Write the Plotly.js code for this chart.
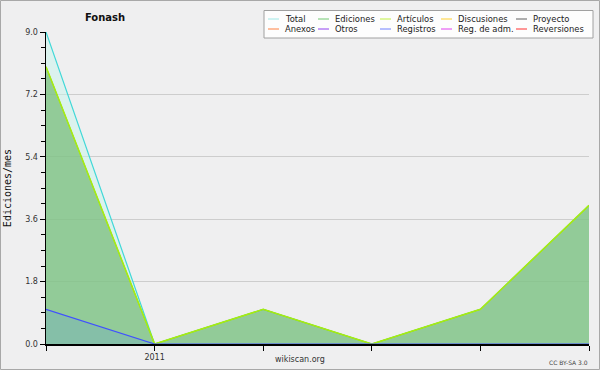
<!DOCTYPE html>
<html><head><meta charset="utf-8">
<script src="https://cdn.plot.ly/plotly-3.0.1.min.js"></script>
<style>html,body{margin:0;padding:0;background:#efeff0;}#c{width:600px;height:370px;}</style>
</head><body><div id="c"></div>
<script>
// ---- data ----
var months = ['2010-12','2011-01','2011-02','2011-03','2011-04','2011-05'];
var xTickLabels = ['', '2011', '', '', '', ''];
var total = [9, 0, 1, 0, 1, 4];
var ediciones = [8, 0, 1, 0, 1, 4];
var articulos = [8, 0, 1, 0, 1, 4];
var registros = [1, 0, 0, 0, 0, 0];
var legendNames = ['Total','Ediciones','Artículos','Discusiones','Proyecto','Anexos','Otros','Registros','Reg. de adm.','Reversiones'];
var legendColors = ['#9ee8e6','#70c870','#c0f040','#ffd030','#606060','#ff8040','#9040f0','#7080ff','#e040f0','#ff3030'];
var yTicks = [0, 1.8, 3.6, 5.4, 7.2, 9.0];

// ---- geometry helpers ----
var L = 46, R = 589, T = 32, B = 344;
function px(x){ return (x - L) / (R - L); }
function py(y){ return (B - y) / (B - T); }

var traces = [
  {x: months, y: total, type: 'scatter', mode: 'lines', name: 'Total', fill: 'tozeroy',
   fillcolor: 'rgba(200,245,235,0.5)', line: {color: '#40d8d8', width: 1.2}},
  {x: months, y: ediciones, type: 'scatter', mode: 'lines', name: 'Ediciones', fill: 'tozeroy',
   fillcolor: 'rgba(108,182,106,0.65)', line: {color: '#60c060', width: 1}},
  {x: months, y: articulos, type: 'scatter', mode: 'lines', name: 'Artículos',
   line: {color: '#a8ec10', width: 1.6}},
  {x: months, y: registros, type: 'scatter', mode: 'lines', name: 'Registros', fill: 'tozeroy',
   fillcolor: 'rgba(104,166,205,0.3)', line: {color: '#4050ff', width: 1.2}}
];

var shapes = [
  {type: 'rect', xref: 'paper', yref: 'paper', x0: px(0.5), x1: px(599.5), y0: py(369.5), y1: py(0.5),
   line: {color: '#a8a8a8', width: 1}, fillcolor: 'rgba(0,0,0,0)', layer: 'below'},
  {type: 'rect', xref: 'paper', yref: 'paper', x0: px(264), x1: px(593), y0: py(38), y1: py(10.5),
   line: {color: '#a0a0a0', width: 1}, fillcolor: '#fdfdfd'}
];
var annotations = [
  {text: 'wikiscan.org', xref: 'paper', yref: 'paper', x: px(300), y: py(359), showarrow: false,
   font: {family: 'DejaVu Sans', size: 8, color: '#333'}, xanchor: 'center', yanchor: 'middle'},
  {text: 'CC BY-SA 3.0', xref: 'paper', yref: 'paper', x: px(590), y: py(362), showarrow: false,
   font: {family: 'DejaVu Sans', size: 6, color: '#444'}, xanchor: 'right', yanchor: 'middle'}
];
var colX = [268, 318, 380, 441, 516];
var rowY = [19, 29];
for (var i = 0; i < legendNames.length; i++) {
  var c = i % 5, r = Math.floor(i / 5);
  shapes.push({type: 'line', xref: 'paper', yref: 'paper', x0: px(colX[c]), x1: px(colX[c] + 11),
    y0: py(rowY[r]), y1: py(rowY[r]), line: {color: legendColors[i], width: 1}});
  annotations.push({text: legendNames[i], xref: 'paper', yref: 'paper', x: px(colX[c] + 15), y: py(rowY[r]),
    showarrow: false, xanchor: 'left', yanchor: 'middle',
    font: {family: 'DejaVu Sans', size: 8.4, color: '#222'}});
}

var layout = {
  width: 600, height: 370,
  margin: {l: L, r: 600 - R, t: T, b: 370 - B, pad: 0},
  paper_bgcolor: '#efeff0', plot_bgcolor: '#efeff0',
  showlegend: false,
  title: {text: '<b>Fonash</b>', x: 105/600, xref: 'container', xanchor: 'center',
          y: 1 - 17/370, yref: 'container', yanchor: 'middle',
          font: {family: 'DejaVu Sans', size: 10, color: '#111'}},
  xaxis: {type: 'category', range: [0, months.length - 1],
          tickmode: 'array', tickvals: months, ticktext: xTickLabels,
          ticks: 'outside', ticklen: 5, tickcolor: '#000', tickwidth: 1,
          showgrid: false, zeroline: false, showline: true, linecolor: '#000', linewidth: 1.5,
          tickfont: {family: 'DejaVu Sans', size: 8, color: '#333'}, fixedrange: true},
  yaxis: {range: [0, 9], tickmode: 'array', tickvals: yTicks, tickformat: '.1f',
          ticks: 'outside', ticklen: 5, tickcolor: '#000', tickwidth: 1,
          minor: {dtick: 0.45, ticks: 'outside', ticklen: 4, tickcolor: '#000', showgrid: false},
          showgrid: true, gridcolor: '#cdcdcd', gridwidth: 1,
          zeroline: false, showline: true, linecolor: '#000', linewidth: 1.5,
          tickfont: {family: 'DejaVu Sans', size: 8, color: '#333'},
          title: {text: 'Ediciones/mes', standoff: 11, font: {family: 'DejaVu Sans Mono', size: 10, color: '#111'}},
          fixedrange: true},
  shapes: shapes,
  annotations: annotations
};
Plotly.newPlot('c', traces, layout, {displayModeBar: false, staticPlot: true});
</script></body></html>
